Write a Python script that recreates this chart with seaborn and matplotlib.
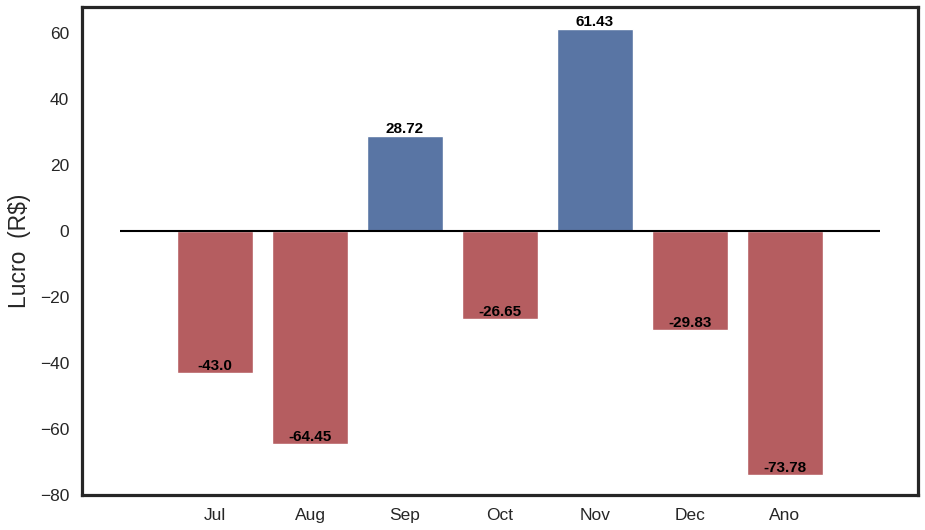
import matplotlib
matplotlib.use("Agg")
import matplotlib.pyplot as plt
import seaborn as sns
import pandas as pd

months = ["Jul", "Aug", "Sep", "Oct", "Nov", "Dec", "Ano"]
lucro = [-43.0, -64.45, 28.72, -26.65, 61.43, -29.83, -73.78]
pos_color = "#4c72b0"
neg_color = "#c44e52"

sns.set_theme(style="white")
plt.rcParams["font.family"] = ["Liberation Sans", "DejaVu Sans"]

df = pd.DataFrame({"mes": months, "lucro": lucro})
palette = [pos_color if v > 0 else neg_color for v in lucro]

fig, ax = plt.subplots(figsize=(9.25, 5.3), dpi=100)
fig.subplots_adjust(left=0.089, right=0.992, top=0.987, bottom=0.066)
sns.barplot(data=df, x="mes", y="lucro", hue="mes", palette=palette,
            legend=False, ax=ax, saturation=0.75)
ax.hlines(0, -1, len(months), color="black", linewidth=1.5)
for i, v in enumerate(lucro):
    ax.text(i, v, str(v), ha="center", va="bottom", fontsize=11,
            fontweight="bold", color="black")
ax.set_xlim(-1.4, len(months) + 0.4)
ax.set_ylim(-80, 68)
ax.set_xlabel("")
ax.set_ylabel("Lucro  (R$)", fontsize=16.5, color="#262626", labelpad=6)
ax.tick_params(labelsize=12.5, colors="#262626")
for s in ax.spines.values():
    s.set_linewidth(2.3)
    s.set_color("#262626")
fig.savefig("out.png", dpi=100)
